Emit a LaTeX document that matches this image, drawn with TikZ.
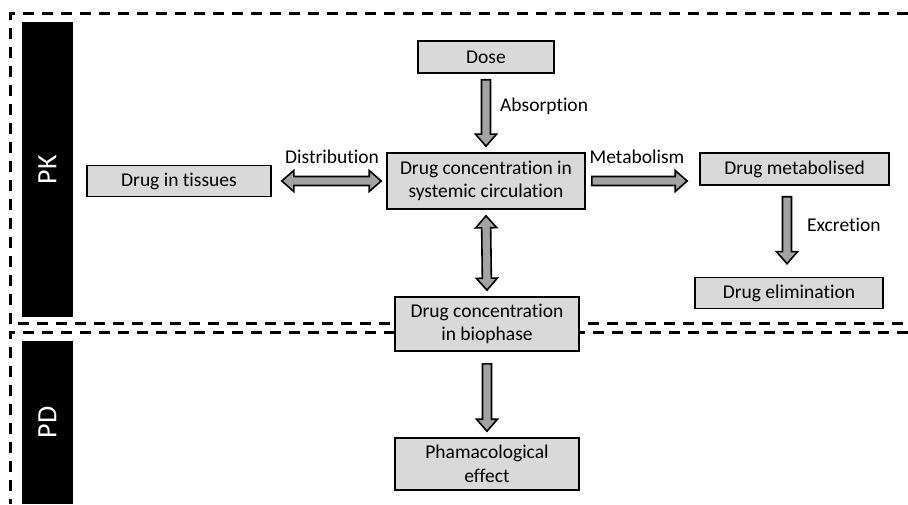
\documentclass[tikz,border=0pt]{standalone}
\usepackage{fontspec}
\setmainfont{Carlito}[Ligatures=CommonOff]
\usetikzlibrary{calc}
\definecolor{boxgray}{HTML}{D9D9D9}
\definecolor{arrowgray}{HTML}{A3A3A3}

\begin{document}
\begin{tikzpicture}[x=1pt, y=1pt,
    every node/.style={font=\fontsize{19.5}{23.5}\selectfont},
    stage/.style={draw, fill=boxgray, line width=\linethic, align=center, inner sep=2pt, minimum height=32pt},
    band/.style={fill=black, text=white, rotate=90, minimum height=51pt, inner sep=0pt, font=\fontsize{28}{30}\selectfont},
    zone/.style={line width=3pt, dash pattern=on 11pt off 8pt},
    fat/.style={draw=black, fill=arrowgray, line width=\linethic, to path={
        let \p1=(\tikztostart), \p2=(\tikztotarget),
            \n1={atan2(\y2-\y1,\x2-\x1)}, \n2={veclen(\x2-\x1,\y2-\y1)} in
        [shift={(\p1)}, rotate=\n1]
        (0pt,-\shaftw) -- ({\n2*1pt-\headl},-\shaftw) -- ({\n2*1pt-\headl},-\headw) -- ({\n2*1pt},0pt)
        -- ({\n2*1pt-\headl},\headw) -- ({\n2*1pt-\headl},\shaftw) -- (0pt,\shaftw) -- cycle}},
    fatboth/.style={draw=black, fill=arrowgray, line width=\linethic, to path={
        let \p1=(\tikztostart), \p2=(\tikztotarget),
            \n1={atan2(\y2-\y1,\x2-\x1)}, \n2={veclen(\x2-\x1,\y2-\y1)} in
        [shift={(\p1)}, rotate=\n1]
        (0pt,0pt) -- (\headl,\headw) -- (\headl,\shaftw) -- ({\n2*1pt-\headl},\shaftw) -- ({\n2*1pt-\headl},\headw)
        -- ({\n2*1pt},0pt) -- ({\n2*1pt-\headl},-\headw) -- ({\n2*1pt-\headl},-\shaftw) -- (\headl,-\shaftw)
        -- (\headl,-\headw) -- cycle}}
]
    %--------------------%
    % Parameters
    %--------------------%
    \def\linethic{1.6pt}
    \def\shaftw{4.5pt}
    \def\headw{10.5pt}
    \def\headl{12pt}
    \def\gap{6}

    \useasboundingbox (0,0) rectangle (908,504);

    %--------------------%
    % Zones
    %--------------------%
    \draw[zone] (908,490) -- (10,490) -- (10,180) -- (908,180);
    \draw[zone] (908,171) -- (10,171) -- (10,0);

    \node[band, minimum width=295pt] (pkbar) at (47.5,334.5) {PK};
    \node[band, minimum width=163pt] (pdbar) at (47.5,81.5) {PD};

    %--------------------%
    % PK boxes
    %--------------------%
    \node[stage, minimum width=136pt] (dose) at (486,447) {Dose};
    \node[stage, minimum width=198pt, minimum height=56pt] (sys) at (486,323) {Drug concentration in\\systemic circulation};
    \node[stage, minimum width=184pt, minimum height=31pt] (tissues) at (179,323) {Drug in tissues};
    \node[stage, minimum width=189pt] (metab) at (794.5,335) {Drug metabolised};
    \node[stage, minimum width=188pt, minimum height=31pt] (elim) at (789,211) {Drug elimination};

    %--------------------%
    % PD boxes
    %--------------------%
    \node[stage, minimum width=184pt, minimum height=54pt] (bio) at (487,180) {Drug concentration\\in biophase};
    \node[stage, minimum width=184pt, minimum height=52pt] (effect) at (487,40) {Phamacological\\effect};

    %--------------------%
    % Connections
    %--------------------%
    \draw[fat] ($(dose.south)+(0,-\gap)$) to ($(sys.north)+(0,\gap)$);
    \draw[fatboth] ($(tissues.east)+(10,0)$) to ($(tissues.east -| sys.west)+(-5,0)$);
    \draw[fat] ($(sys.east)+(\gap,0)$) to ($(sys.east -| metab.west)+(-12,0)$);
    \draw[fat] ($(metab.south)+(-7.5,-11)$) to ($(elim.north)+(-2,13)$);
    \draw[fatboth] ($(sys.south)+(0,-\gap)$) to ($(bio.north)+(0,\gap)$);
    \draw[fat] ($(bio.south)+(0,-12)$) to ($(effect.north)+(0,\gap)$);

    %--------------------%
    % Labels
    %--------------------%
    \node[right, inner sep=0pt] (absorb) at (500,398) {Absorption};
    \node (distrib) at (332,347) {Distribution};
    \node (metabol) at (637,347) {Metabolism};
    \node[right, inner sep=0pt] (excret) at (807,279) {Excretion};

\end{tikzpicture}
\end{document}
